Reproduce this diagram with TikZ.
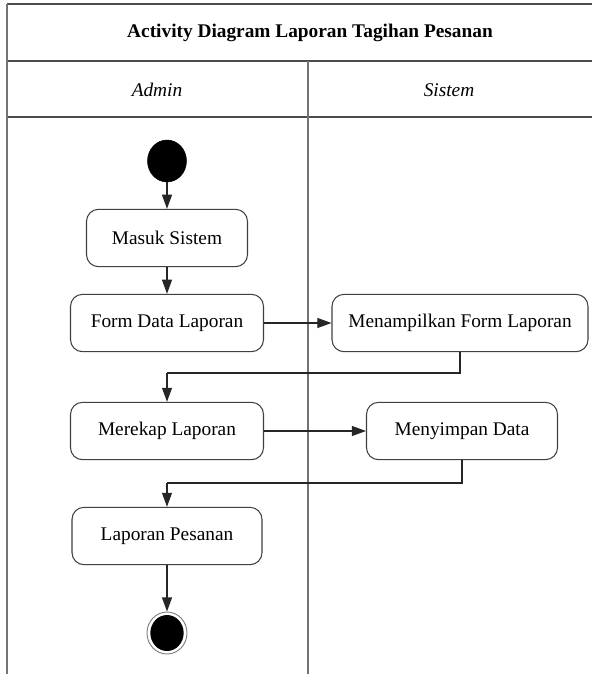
\documentclass[tikz,border=0pt]{standalone}
\usepackage{fontspec}
\setmainfont{Liberation Serif}
\usetikzlibrary{arrows.meta,positioning,shapes.geometric}

\begin{document}
\begin{tikzpicture}[
    x=0.03cm, y=-0.03cm,
    font=\fontsize{16.5pt}{19pt}\selectfont,
    lane/.style={draw=black!55, line width=1.6pt},
    rule/.style={draw=black!70, line width=1.4pt},
    action/.style={draw=black!75, line width=0.9pt, rounded corners=0.36cm, minimum height=1.72cm, align=center, inner sep=2pt},
    initial/.style={ellipse, fill=black, draw=black, minimum width=1.17cm, minimum height=1.26cm, inner sep=0pt},
    final/.style={ellipse, fill=white, draw=black!50, line width=0.8pt, minimum width=1.2cm, minimum height=1.26cm, inner sep=0pt,
        path picture={\fill[black] (path picture bounding box.center) ellipse (0.5cm and 0.54cm);}},
    flow/.style={-{Triangle[length=12pt, width=8.5pt]}, draw=black!85, line width=0.9pt},
    link/.style={draw=black!85, line width=0.9pt}
]
\useasboundingbox (0,0) rectangle (592,674);

% Swimlane frame
\draw[rule] (7,4) -- (592,4);
\draw[rule] (7,61) -- (592,61);
\draw[rule] (7,117) -- (592,117);
\draw[lane] (7,4) -- (7,674);
\draw[lane] (308,61) -- (308,674);

% Titles
\node[font=\fontsize{16.5pt}{19pt}\selectfont\bfseries] (title) at (310,33) {Activity Diagram Laporan Tagihan Pesanan};
\node[font=\fontsize{16.5pt}{19pt}\selectfont\itshape] (admin) at (157,90) {Admin};
\node[font=\fontsize{16.5pt}{19pt}\selectfont\itshape] (sistem) at (449,90) {Sistem};

% Admin lane
\node[initial] (start) at (167,161) {};
\node[action, minimum width=4.83cm] (masuk) at (167,238) {Masuk Sistem};
\node[action, minimum width=5.79cm] (form) at (167,323) {Form Data Laporan};
\node[action, minimum width=5.79cm] (merekap) at (167,431) {Merekap Laporan};
\node[action, minimum width=5.7cm] (lapor) at (167,536) {Laporan Pesanan};
\node[final] (end) at (167,633) {};

% Sistem lane
\node[action, minimum width=7.68cm] (tampil) at (460,323) {Menampilkan Form Laporan};
\node[action, minimum width=5.73cm] (simpan) at (462,431) {Menyimpan Data};

% Bends for the returns
\coordinate (bend1) at (167,373);
\coordinate (bend2) at (167,483);

% Flows
\draw[flow] (start) -- (masuk);
\draw[flow] (masuk) -- (form);
\draw[flow] (form) -- (tampil);
\draw[link] (tampil.south) |- (bend1);
\draw[flow] (bend1) -- (merekap.north);
\draw[flow] (merekap) -- (simpan);
\draw[link] (simpan.south) |- (bend2);
\draw[flow] (bend2) -- (lapor.north);
\draw[flow] (lapor) -- (end);

\end{tikzpicture}
\end{document}
